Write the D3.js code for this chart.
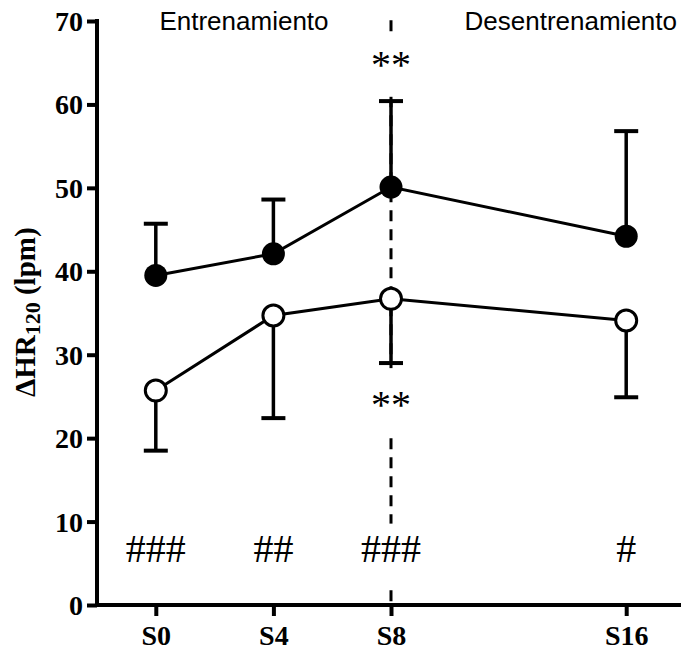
<!DOCTYPE html>
<html>
<head>
<meta charset="utf-8">
<script src="https://cdn.jsdelivr.net/npm/d3@7"></script>
<style>
  body { margin: 0; background: #fff; }
</style>
</head>
<body>
<div class="canvas"></div>
<script>
// data
const weeks = [0, 4, 8, 16];
const weekLabels = ['S0', 'S4', 'S8', 'S16'];
const filledMean = [39.5, 42.1, 50.1, 44.2];
const filledUpper = [45.7, 48.6, 60.4, 56.8];
const openMean = [25.7, 34.7, 36.7, 34.1];
const openLower = [18.5, 22.4, 29.0, 24.9];
const hashMarks = ['###', '##', '###', '#'];
const yTicks = [0, 10, 20, 30, 40, 50, 60, 70];

const width = 681, height = 652;
const serif = 'Liberation Serif, Times New Roman, serif';
const sans = 'Liberation Sans, Arial, sans-serif';

const svg = d3.select('.canvas')
    .append('svg')
        .attr('width', width)
        .attr('height', height);

const x = d3.scaleLinear()
    .domain([-2, 18])
    .range([97, 685]);

const y = d3.scaleLinear()
    .domain([0, 70])
    .range([605, 21]);

// dashed separator at S8
svg.append('line')
    .attr('x1', x(8)).attr('x2', x(8))
    .attr('y1', y(70.1)).attr('y2', y(0))
    .attr('stroke', '#000')
    .attr('stroke-width', 3)
    .attr('stroke-dasharray', '11,8');

// annotation texts with white background over the dashed line
const addNote = (txt, xv, yv, size, padTop, padBottom) => {
    const g = svg.append('g');
    const rect = g.append('rect').attr('fill', '#fff');
    const t = g.append('text')
        .attr('x', x(xv))
        .attr('y', y(yv))
        .attr('text-anchor', 'middle')
        .attr('font-family', serif)
        .attr('font-size', size)
        .text(txt);
    const b = t.node().getBBox();
    rect.attr('x', b.x - 2).attr('y', b.y - padTop)
        .attr('width', b.width + 4).attr('height', b.height + padTop + padBottom);
};

addNote('**', 8, 63.2, 40, 8, 10);
addNote('**', 8, 22.4, 40, 14, 4);
hashMarks.forEach((h, i) => addNote(h, weeks[i], 5.2, 40, 2, 14));

// axes
const yAxis = d3.axisLeft(y)
    .tickValues(yTicks)
    .tickSize(10)
    .tickPadding(4);

const xAxis = d3.axisBottom(x)
    .tickValues(weeks)
    .tickFormat((d, i) => weekLabels[i])
    .tickSize(11)
    .tickPadding(7);

const gy = svg.append('g')
    .attr('transform', `translate(${x(-2)},0)`)
    .call(yAxis);

const gx = svg.append('g')
    .attr('transform', `translate(0,${y(0)})`)
    .call(xAxis);

[gx, gy].forEach(g => {
    g.select('.domain').remove();
    g.selectAll('.tick line').attr('stroke-width', 4);
    g.selectAll('text')
        .attr('font-family', serif)
        .attr('font-weight', 'bold')
        .attr('font-size', 28)
        .attr('fill', '#000');
});

svg.append('line')
    .attr('x1', x(-2)).attr('x2', x(18))
    .attr('y1', y(0)).attr('y2', y(0))
    .attr('stroke', '#000').attr('stroke-width', 4);
svg.append('line')
    .attr('x1', x(-2)).attr('x2', x(-2))
    .attr('y1', y(0) + 2).attr('y2', y(70) - 2)
    .attr('stroke', '#000').attr('stroke-width', 4);

gx.selectAll('text').attr('dy', '0.8em');
gy.selectAll('text').attr('dy', '0.34em');

// y axis title
const yt = svg.append('text')
    .attr('transform', `translate(35,${y(35.1)}) rotate(-90)`)
    .attr('text-anchor', 'middle')
    .attr('font-family', serif)
    .attr('font-weight', 'bold')
    .attr('font-size', 29);
yt.append('tspan').text('\u0394HR');
yt.append('tspan').attr('font-size', 22).attr('dy', 5).text('120');
yt.append('tspan').attr('dy', -5).text(' (lpm)');

// section titles
svg.append('text')
    .attr('x', x(3)).attr('y', 30)
    .attr('text-anchor', 'middle')
    .attr('font-family', sans)
    .attr('font-size', 26)
    .text('Entrenamiento');

svg.append('text')
    .attr('x', 677).attr('y', 30)
    .attr('text-anchor', 'end')
    .attr('font-family', sans)
    .attr('font-size', 26)
    .text('Desentrenamiento');

// error bars
const capW = 12;
const drawErr = (means, ends) => {
    weeks.forEach((w, i) => {
        svg.append('line')
            .attr('x1', x(w)).attr('x2', x(w))
            .attr('y1', y(means[i])).attr('y2', y(ends[i]))
            .attr('stroke', '#000').attr('stroke-width', 3.5);
        svg.append('line')
            .attr('x1', x(w) - capW).attr('x2', x(w) + capW)
            .attr('y1', y(ends[i])).attr('y2', y(ends[i]))
            .attr('stroke', '#000').attr('stroke-width', 4);
    });
};
drawErr(filledMean, filledUpper);
drawErr(openMean, openLower);

// lines
const line = d3.line()
    .x((d, i) => x(weeks[i]))
    .y(d => y(d));

[filledMean, openMean].forEach(s => {
    svg.append('path')
        .datum(s)
        .attr('d', line)
        .attr('fill', 'none')
        .attr('stroke', '#000')
        .attr('stroke-width', 3);
});

// points
svg.selectAll('circle.filled')
    .data(filledMean)
    .enter()
    .append('circle')
        .attr('class', 'filled')
        .attr('cx', (d, i) => x(weeks[i]))
        .attr('cy', d => y(d))
        .attr('r', 11.5)
        .attr('fill', '#000');

svg.selectAll('circle.open')
    .data(openMean)
    .enter()
    .append('circle')
        .attr('class', 'open')
        .attr('cx', (d, i) => x(weeks[i]))
        .attr('cy', d => y(d))
        .attr('r', 10.5)
        .attr('fill', '#fff')
        .attr('stroke', '#000')
        .attr('stroke-width', 3);
</script>
</body>
</html>
